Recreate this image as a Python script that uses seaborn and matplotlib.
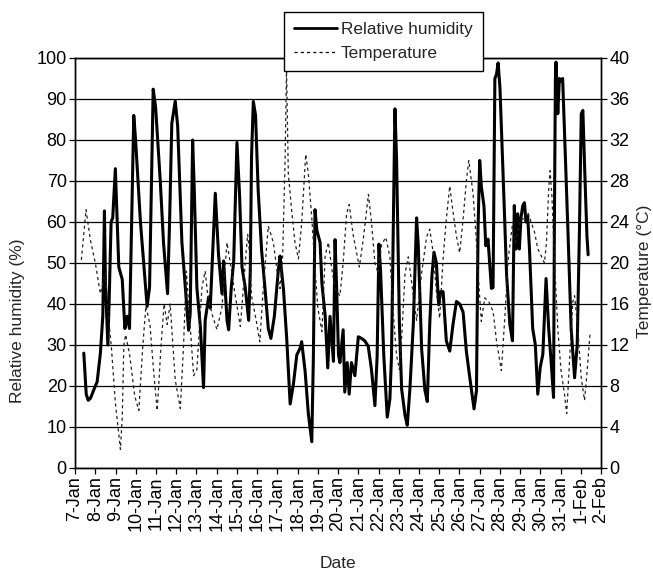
import matplotlib
matplotlib.use("Agg")
import matplotlib.pyplot as plt
import seaborn as sns
import pandas as pd
from matplotlib.lines import Line2D

# ---- data (days since 7-Jan 00:00) ----
rh_day = [0.43, 0.55, 0.65, 0.76, 0.92, 1.09, 1.25, 1.37, 1.45, 1.50, 1.62, 1.70, 1.78, 1.86, 1.99,
          2.16, 2.33, 2.46, 2.57, 2.69, 2.90, 2.99, 3.23, 3.56, 3.68, 3.86, 3.98, 4.21, 4.37, 4.57,
          4.67, 4.78, 4.95, 5.07, 5.28, 5.45, 5.61, 5.69, 5.81, 5.89, 6.02, 6.19, 6.35, 6.43, 6.60,
          6.68, 6.93, 7.09, 7.26, 7.34, 7.51, 7.59, 7.72, 7.84, 8.00, 8.13, 8.25, 8.41, 8.58, 8.66,
          8.72, 8.81, 8.92, 9.05, 9.22, 9.39, 9.55, 9.68, 9.85, 10.05, 10.13, 10.30, 10.46, 10.63,
          10.79, 10.96, 11.12, 11.20, 11.37, 11.53, 11.70, 11.78, 11.86, 11.95, 12.11, 12.20, 12.36,
          12.49, 12.60, 12.77, 12.85, 12.93, 13.02, 13.09, 13.25, 13.33, 13.45, 13.55, 13.66, 13.83,
          14.00, 14.16, 14.32, 14.49, 14.65, 14.82, 14.93, 15.02, 15.10, 15.26, 15.43, 15.56, 15.64,
          15.73, 15.81, 15.89, 16.03, 16.14, 16.31, 16.42, 16.55, 16.72, 16.88, 16.96, 17.13, 17.29,
          17.41, 17.53, 17.64, 17.74, 17.86, 17.97, 18.07, 18.19, 18.35, 18.52, 18.68, 18.85, 19.01,
          19.18, 19.34, 19.51, 19.72, 19.84, 19.92, 20.00, 20.08, 20.21, 20.30, 20.41, 20.58, 20.66,
          20.75, 20.83, 20.91, 21.00, 21.16, 21.33, 21.49, 21.62, 21.71, 21.80, 21.88, 21.96, 22.04,
          22.13, 22.21, 22.29, 22.37, 22.46, 22.62, 22.75, 22.87, 22.99, 23.12, 23.28, 23.41, 23.53,
          23.65, 23.69, 23.74, 23.77, 23.86, 23.94, 24.02, 24.10, 24.19, 24.36, 24.52, 24.69, 24.82,
          24.93, 25.02, 25.10, 25.18, 25.30, 25.36]
rh_val = [28, 18, 16.5, 17, 19, 21, 28, 37, 62.7, 45, 30, 44, 60, 61, 73,
          49, 46, 34, 37, 34, 86, 80, 60, 39.4, 44, 92.4, 88, 70, 55, 42.5,
          60, 84, 89.5, 83.4, 55, 44, 33.6, 37.7, 80, 68, 44, 34.5, 19.6, 36, 41.7,
          39, 67, 52, 42.5, 50.5, 36, 33.7, 44, 50.5, 79.4, 66.6, 49, 44, 36, 48,
          75.7, 89.4, 86, 67.7, 53, 43.6, 34, 31.6, 37, 48.5, 51.7, 43.6, 31.6, 15.6,
          20.4, 27.6, 29.2, 30.8, 23.6, 13.2, 6.4, 27.6, 63, 58, 55, 45, 37.2,
          24.4, 37, 26, 55.7, 43.6, 27.6, 25.7, 33.7, 18.5, 25.7, 18, 25.7, 22.5,
          32, 31.6, 31, 29.7, 24, 15.2, 27.3, 54.6, 48, 27.3, 12.4, 16.8, 27.3,
          59.5, 87.6, 75.5, 35.3, 19.3, 12.8, 10.4, 19.3, 35.3, 61, 54.6, 29, 19,
          16.2, 35, 47, 52.6, 50, 39.8, 43, 43, 31, 28.5, 35, 40.6, 40,
          38, 28.5, 22, 14.4, 18.9, 59, 75, 68.7, 63.9, 54.2, 55.8, 43.8, 44,
          95, 96, 98.8, 92.8, 71, 47, 35, 31, 64, 53.4, 62, 53.4, 61,
          64, 64.7, 60, 61.5, 53.4, 34, 30, 18, 24.5, 27.7, 46.2, 34, 26,
          17.2, 58, 94.4, 99, 86.4, 95, 94.4, 95, 82.4, 58, 34, 22, 30,
          58, 86.4, 87.2, 74.3, 56.6, 52]

temp_day = [0.31, 0.54, 0.76, 1.00, 1.17, 1.25, 1.50, 1.65, 1.80, 1.99, 2.24, 2.33, 2.41, 2.50, 2.70,
            2.95, 3.15, 3.35, 3.50, 3.70, 3.90, 4.06, 4.25, 4.40, 4.55, 4.70, 4.95, 5.20, 5.36, 5.50,
            5.65, 5.86, 6.02, 6.27, 6.43, 6.55, 6.77, 7.01, 7.26, 7.51, 7.67, 7.90, 8.17, 8.41, 8.53,
            8.62, 8.72, 8.97, 9.13, 9.30, 9.55, 9.80, 9.97, 10.13, 10.26, 10.38, 10.45, 10.54, 10.71,
            10.87, 11.04, 11.20, 11.40, 11.53, 11.70, 11.86, 12.00, 12.20, 12.36, 12.52, 12.69, 12.85,
            13.09, 13.25, 13.42, 13.55, 13.74, 13.95, 14.05, 14.25, 14.50, 14.65, 14.82, 14.98, 15.15,
            15.36, 15.56, 15.73, 15.89, 16.03, 16.15, 16.31, 16.47, 16.64, 16.88, 17.13, 17.37, 17.53,
            17.70, 17.86, 18.02, 18.19, 18.35, 18.52, 18.68, 18.85, 19.01, 19.18, 19.34, 19.46, 19.67,
            19.84, 20.00, 20.08, 20.25, 20.45, 20.66, 20.83, 21.07, 21.24, 21.41, 21.61, 21.75, 22.04,
            22.20, 22.37, 22.54, 22.71, 22.87, 23.04, 23.20, 23.30, 23.41, 23.48, 23.57, 23.70, 23.86,
            24.02, 24.19, 24.30, 24.44, 24.60, 24.69, 24.85, 25.02, 25.18, 25.30, 25.45]
temp_val = [20.3, 25.2, 22.2, 20, 18, 17, 19, 14.8, 11.6, 6.4, 1.8, 4.9, 12, 13, 11,
            7, 5.6, 12, 15.8, 14, 9, 5.6, 12, 16, 14, 16, 8.6, 5.8, 11.9, 19.2,
            15, 9, 9.6, 17.6, 19.2, 17, 15, 13.5, 15.7, 22, 20, 17, 13.8, 20, 22.8,
            21, 16.8, 14.2, 12.3, 17.5, 23.6, 22, 19.4, 17.5, 20.7, 30, 39, 28.7, 25,
            22, 20.4, 23.9, 30.6, 28.7, 24.4, 19.4, 15.6, 13.3, 20.7, 22, 19.4, 17.5,
            16.8, 20, 24.8, 25.7, 22.8, 20.6, 19.6, 22.4, 26.7, 24, 20, 19, 21.8,
            22.5, 20.6, 15, 11, 9.6, 13, 19, 20.6, 18, 14.4, 19, 22.5, 23.3,
            21, 17.2, 14.6, 20.4, 24.3, 27.5, 25, 22.6, 21, 24.3, 28, 30, 26.8,
            22, 16.6, 14.3, 16.6, 16.2, 15.3, 12.4, 9.5, 14.6, 20.4, 23.6, 22, 24.3,
            24.3, 25, 24, 23, 21.4, 20.7, 20, 22, 27.2, 29, 26.5, 20, 13.6,
            9.5, 7.2, 5.3, 10.4, 16.2, 16.8, 13.6, 8.8, 6.6, 9.2, 13]

date_labels = ["7-Jan", "8-Jan", "9-Jan", "10-Jan", "11-Jan", "12-Jan", "13-Jan", "14-Jan",
               "15-Jan", "16-Jan", "17-Jan", "18-Jan", "19-Jan", "20-Jan", "21-Jan", "22-Jan",
               "23-Jan", "24-Jan", "25-Jan", "26-Jan", "27-Jan", "28-Jan", "29-Jan", "30-Jan",
               "31-Jan", "1-Feb", "2-Feb"]
rh_ticks = [0, 10, 20, 30, 40, 50, 60, 70, 80, 90, 100]
temp_ticks = [0, 4, 8, 12, 16, 20, 24, 28, 32, 36, 40]

rh_df = pd.DataFrame({"day": rh_day, "rh": rh_val})
temp_df = pd.DataFrame({"day": temp_day, "temp": temp_val})

sns.set_style("ticks")
plt.rcParams["font.family"] = ["Liberation Sans", "DejaVu Sans"]
plt.rcParams["axes.edgecolor"] = "black"
plt.rcParams["axes.linewidth"] = 1.0

fig = plt.figure(figsize=(6.53, 5.77), dpi=100)
ax = fig.add_axes([0.115, 0.189, 0.8055, 0.7105])

sns.lineplot(data=rh_df, x="day", y="rh", ax=ax, color="black", lw=2.2,
             sort=False, estimator=None, legend=False)
ax2 = ax.twinx()
sns.lineplot(data=temp_df, x="day", y="temp", ax=ax2, color="#222222", lw=0.9,
             sort=False, estimator=None, legend=False)
ax2.lines[0].set_linestyle((0, (2.5, 2.5)))

ax.set_xlim(0, len(date_labels) - 1)
ax.set_ylim(0, 100)
ax2.set_ylim(0, 40)
ax.set_xticks(range(len(date_labels)))
ax.set_xticklabels(date_labels, rotation=90, fontsize=13)
ax.set_yticks(rh_ticks)
ax.set_yticklabels([str(t) for t in rh_ticks], fontsize=13)
ax2.set_yticks(temp_ticks)
ax2.set_yticklabels([str(t) for t in temp_ticks], fontsize=13)
ax.yaxis.grid(True, color="black", lw=0.9)
ax.set_axisbelow(True)
for a in (ax, ax2):
    a.tick_params(direction="out", length=4, width=0.9, color="black", labelcolor="black", pad=2)
    for s in a.spines.values():
        s.set_visible(True)
        s.set_color("black")

ax.set_xlabel("Date", fontsize=12.5, labelpad=18)
ax.set_ylabel("Relative humidity (%)", fontsize=12.5)
ax.yaxis.set_label_coords(-0.095, 0.36)
ax2.set_ylabel("Temperature (°C)", fontsize=12.5)
ax2.yaxis.set_label_coords(1.068, 0.48)

handles = [Line2D([], [], color="black", lw=2.0),
           Line2D([], [], color="black", lw=0.9, linestyle=(0, (2.5, 2.5)))]
fig.legend(handles, ["Relative humidity", "Temperature"], loc="upper left",
           bbox_to_anchor=(284 / 653, 1 - 12 / 577), fontsize=12.4, frameon=True,
           fancybox=False, edgecolor="black", framealpha=1, borderaxespad=0,
           handlelength=2.5, handletextpad=0.2, labelspacing=0.5, borderpad=0.6)

fig.savefig("out.png", dpi=100)
